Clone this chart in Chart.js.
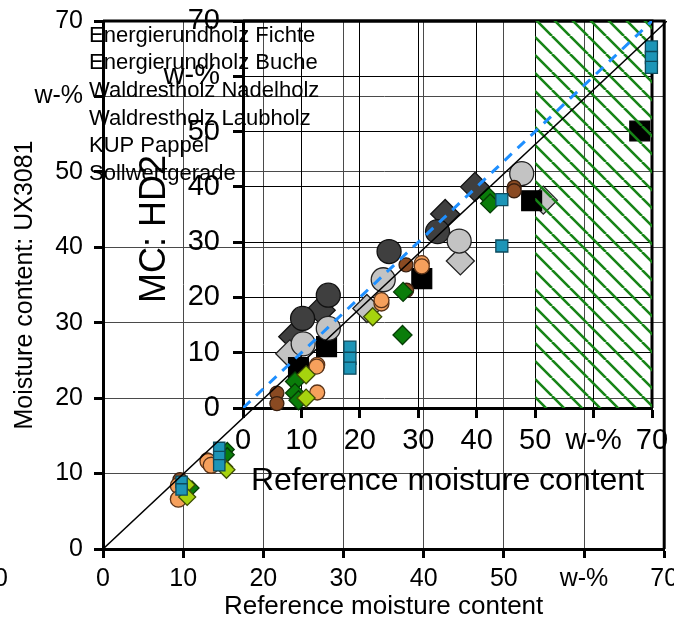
<!DOCTYPE html>
<html>
<head>
<meta charset="utf-8">
<script src="https://cdn.jsdelivr.net/npm/chart.js@4.4.0/dist/chart.umd.min.js"></script>
<style>
  html, body { margin: 0; padding: 0; background: #fff; }
  #wrap { position: relative; width: 674px; height: 625px; }
  #wrap canvas { position: absolute; left: 0; top: 0; }
</style>
</head>
<body>
<div id="wrap">
  <canvas id="outer" width="674" height="625"></canvas>
  <canvas id="inset" width="674" height="625"></canvas>
  <canvas id="overlay" width="674" height="625"></canvas>
</div>
<script>
// axis ticks, 60 is shown as the unit
const tickValues = [0, 10, 20, 30, 40, 50, 60, 70];
const tickLabels = ['0', '10', '20', '30', '40', '50', 'w-%', '70'];

const seriesNames = [
  'Energierundholz Fichte',
  'Energierundholz Buche',
  'Waldrestholz Nadelholz',
  'Waldrestholz Laubholz',
  'KUP Pappel',
  'Sollwertgerade',
];

// HD2 readings [reference, measured] in w-%
const fichteCircleHD2 = [[10.2, 16.2], [14.6, 20.4], [25.0, 28.3], [33.3, 31.9]];
const fichteDiamondHD2 = [[8.6, 12.9], [13.3, 17.7], [34.6, 35.1], [39.7, 40.0]];
const bucheCircleHD2 = [[10.3, 11.6], [14.6, 14.4], [24.0, 23.2], [37.0, 30.2], [47.7, 42.4]];
const bucheDiamondHD2 = [[8.0, 9.8], [21.2, 18.0], [37.2, 26.6], [51.4, 37.6]];
const nadelBrownHD2 = [[5.8, 2.7], [5.8, 0.8], [27.9, 25.9], [28.0, 21.3], [46.4, 39.9], [46.4, 39.3]];
const nadelOrangeHD2 = [[12.7, 7.8], [12.6, 7.5], [12.7, 2.8], [23.7, 18.9], [23.7, 19.5], [30.6, 26.2], [30.6, 25.6]];
const laubDarkHD2 = [[8.9, 4.8], [8.9, 2.7], [9.5, 1.4], [27.4, 21.0], [27.3, 13.2], [42.0, 38.2], [42.3, 37.0]];
const laubLightHD2 = [[10.8, 6.0], [10.8, 1.8], [22.2, 16.5]];
const pappelBlackHD2 = [[9.5, 7.3], [14.3, 11.1], [30.6, 23.4], [49.4, 37.5], [67.9, 50.1]];
const pappelTealHD2 = [[18.3, 11.0], [18.3, 9.0], [18.3, 7.2], [44.3, 37.7], [44.3, 29.3], [69.9, 65.3], [69.9, 63.4], [69.9, 61.6]];

// UX3081 readings [reference, measured] in w-%
const nadelBrownUX = [[9.6, 9.2], [13.0, 11.8]];
const nadelOrangeUX = [[9.4, 8.4], [9.4, 6.6], [13.1, 11.6], [13.5, 11.1]];
const laubDarkUX = [[11.1, 8.1], [15.5, 13.2], [15.5, 12.5]];
const laubLightUX = [[10.4, 8.5], [10.5, 6.9], [15.1, 10.9], [15.4, 10.5]];
const pappelTealUX = [[9.8, 8.9], [9.8, 7.9], [14.5, 13.4], [14.5, 12.2], [14.5, 11.1]];

const targetLine = [[0, 0], [70, 70]];
const hatchRange = [50, 70];

const FONT = '"Liberation Sans", Arial, sans-serif';
Chart.defaults.font.family = FONT;
Chart.defaults.color = '#000';

const pts = arr => arr.map(([x, y]) => ({x, y}));
const tickLabel = v => tickLabels[tickValues.indexOf(v)] ?? '';

function markers(label, data, style, radius, fill, stroke) {
  return {
    label,
    data: pts(data),
    pointStyle: style,
    pointRadius: radius,
    pointHoverRadius: radius,
    backgroundColor: fill,
    borderColor: stroke,
    borderWidth: 1.3,
    clip: false,
  };
}

// first in list is drawn first
function stack(list) {
  return list.map((ds, i) => Object.assign(ds, {order: list.length - i}));
}

function axis(opts) {
  const horizontal = opts.pos === 'bottom';
  return {
    type: 'linear',
    position: opts.pos,
    min: 0,
    max: 70,
    ticks: {
      stepSize: 10,
      callback: tickLabel,
      font: {size: opts.tickSize},
      padding: opts.tickPad,
      maxRotation: 0,
      autoSkip: false,
    },
    grid: {color: opts.gridColor, lineWidth: 1, tickLength: opts.tickLen, tickColor: '#000', tickWidth: 3},
    border: {color: '#000', width: 3},
    title: {
      display: !!opts.title,
      text: opts.title,
      font: {size: opts.titleSize},
      padding: horizontal ? {bottom: opts.titlePad} : {top: opts.titlePad},
    },
    afterFit: s => {
      if (horizontal) {
        s.height = opts.box;
        s.paddingLeft = 0;
        s.paddingRight = 0;
      } else {
        s.width = opts.box;
        s.paddingTop = 0;
        s.paddingBottom = 0;
      }
    },
  };
}

function frame(width) {
  return {
    id: 'frame',
    beforeDatasetsDraw(chart) {
      const {ctx, chartArea: a} = chart;
      ctx.save();
      ctx.strokeStyle = '#000';
      ctx.lineWidth = width;
      ctx.beginPath();
      ctx.moveTo(a.left, a.top);
      ctx.lineTo(a.right, a.top);
      ctx.lineTo(a.right, a.bottom);
      ctx.stroke();
      ctx.restore();
    },
  };
}

const base = {
  responsive: false,
  animation: false,
  devicePixelRatio: 1,
  plugins: {legend: {display: false}, tooltip: {enabled: false}},
};

// main plot: UX3081
new Chart(document.getElementById('outer'), {
  type: 'scatter',
  data: {
    datasets: stack([
      markers(seriesNames[2], nadelBrownUX, 'circle', 7, '#8a4a22', '#3a2010'),
      markers(seriesNames[2], nadelOrangeUX, 'circle', 8, '#f6a05c', '#5a3318'),
      markers(seriesNames[3], laubDarkUX, 'rectRot', 7, '#0a7d0a', '#053d05'),
      markers(seriesNames[3], laubLightUX, 'rectRot', 8.5, '#a6d30e', '#3d4d05'),
      markers(seriesNames[4], pappelTealUX, 'rect', 8, '#1d95b7', '#0d4a5c'),
    ]),
  },
  options: {
    ...base,
    layout: {padding: {top: 21, right: 7, left: 0, bottom: 0}},
    scales: {
      x: axis({pos: 'bottom', tickSize: 25, tickPad: 6, tickLen: 9, gridColor: '#4a4a4a',
        title: 'Reference moisture content', titleSize: 26, titlePad: 3, box: 76}),
      y: axis({pos: 'left', tickSize: 25, tickPad: 11, tickLen: 9, gridColor: '#4a4a4a',
        title: 'Moisture content: UX3081', titleSize: 25, titlePad: 10, box: 103}),
    },
  },
  plugins: [frame(3)],
});

// hatched band of the inset
function hatch() {
  const tile = document.createElement('canvas');
  tile.width = tile.height = 18;
  const t = tile.getContext('2d');
  t.strokeStyle = '#178517';
  t.lineWidth = 2.6;
  t.beginPath();
  for (const k of [-18, 0, 18]) {
    t.moveTo(k, 0);
    t.lineTo(k + 18, 18);
  }
  t.stroke();
  const p = t.createPattern(tile, 'repeat');
  p.setTransform(new DOMMatrix().translate(12, 0));
  return p;
}

// the inset's y title sits a little below the axis middle
const insetYTitle = {
  id: 'insetYTitle',
  beforeDatasetsDraw(chart) {
    const {ctx} = chart;
    ctx.save();
    ctx.translate(155, 229);
    ctx.rotate(-Math.PI / 2);
    ctx.font = '36px ' + FONT;
    ctx.fillStyle = '#000';
    ctx.textAlign = 'center';
    ctx.textBaseline = 'middle';
    ctx.fillText('MC: HD2', 0, 0);
    ctx.restore();
  },
};

// inset: HD2
new Chart(document.getElementById('inset'), {
  type: 'scatter',
  data: {
    datasets: stack([
      markers(seriesNames[0], fichteDiamondHD2, 'rectRot', 14.5, '#3f3f3f', '#111'),
      markers(seriesNames[1], bucheDiamondHD2, 'rectRot', 14, '#c3c3c3', '#222'),
      markers(seriesNames[0], fichteCircleHD2, 'circle', 12, '#3f3f3f', '#111'),
      markers(seriesNames[4], pappelBlackHD2, 'rect', 14, '#000', '#000'),
      markers(seriesNames[1], bucheCircleHD2, 'circle', 12, '#c3c3c3', '#222'),
      markers(seriesNames[2], nadelBrownHD2, 'circle', 7, '#8a4a22', '#3a2010'),
      markers(seriesNames[2], nadelOrangeHD2, 'circle', 7.5, '#f6a05c', '#5a3318'),
      markers(seriesNames[3], laubDarkHD2, 'rectRot', 9.5, '#0a7d0a', '#053d05'),
      markers(seriesNames[3], laubLightHD2, 'rectRot', 9, '#a6d30e', '#3d4d05'),
      {
        label: 'hatch',
        data: hatchRange.map(x => ({x, y: 70})),
        showLine: true,
        fill: 'origin',
        backgroundColor: hatch(),
        borderWidth: 0,
        pointRadius: 0,
      },
      markers(seriesNames[4], pappelTealHD2, 'rect', 8.5, '#1d95b7', '#0d4a5c'),
      {
        label: seriesNames[5],
        data: pts(targetLine),
        showLine: true,
        borderColor: '#1e8fff',
        borderWidth: 3,
        borderDash: [10, 8],
        pointRadius: 0,
      },
    ]),
  },
  options: {
    ...base,
    layout: {padding: {top: 21, right: 22, left: 0, bottom: 0}},
    scales: {
      x: axis({pos: 'bottom', tickSize: 29, tickPad: 6, tickLen: 10, gridColor: '#000',
        title: 'Reference moisture content', titleSize: 32, titlePad: 125, box: 217}),
      y: axis({pos: 'left', tickSize: 29, tickPad: 13, tickLen: 10, gridColor: '#000',
        title: '', box: 243}),
    },
  },
  plugins: [frame(3), insetYTitle],
});

// top layer: 1:1 line of the main plot and the legend text
const legendText = {
  id: 'legendText',
  afterDraw(chart) {
    const {ctx} = chart;
    ctx.save();
    ctx.fillStyle = '#000';
    ctx.font = '22px ' + FONT;
    ctx.textBaseline = 'alphabetic';
    seriesNames.forEach((name, i) => ctx.fillText(name, 89, 41.7 + i * 27.66));
    ctx.font = '25px ' + FONT;
    ctx.textAlign = 'center';
    ctx.textBaseline = 'middle';
    ctx.fillText('0', 1, 579);
    ctx.restore();
  },
};

new Chart(document.getElementById('overlay'), {
  type: 'scatter',
  data: {
    datasets: [{
      label: seriesNames[5],
      data: pts(targetLine),
      showLine: true,
      borderColor: '#000',
      borderWidth: 1.5,
      pointRadius: 0,
    }],
  },
  options: {
    ...base,
    layout: {padding: {top: 21, right: 7, left: 103, bottom: 76}},
    scales: {
      x: {type: 'linear', min: 0, max: 70, display: false},
      y: {type: 'linear', min: 0, max: 70, display: false},
    },
  },
  plugins: [legendText],
});
</script>
</body>
</html>
